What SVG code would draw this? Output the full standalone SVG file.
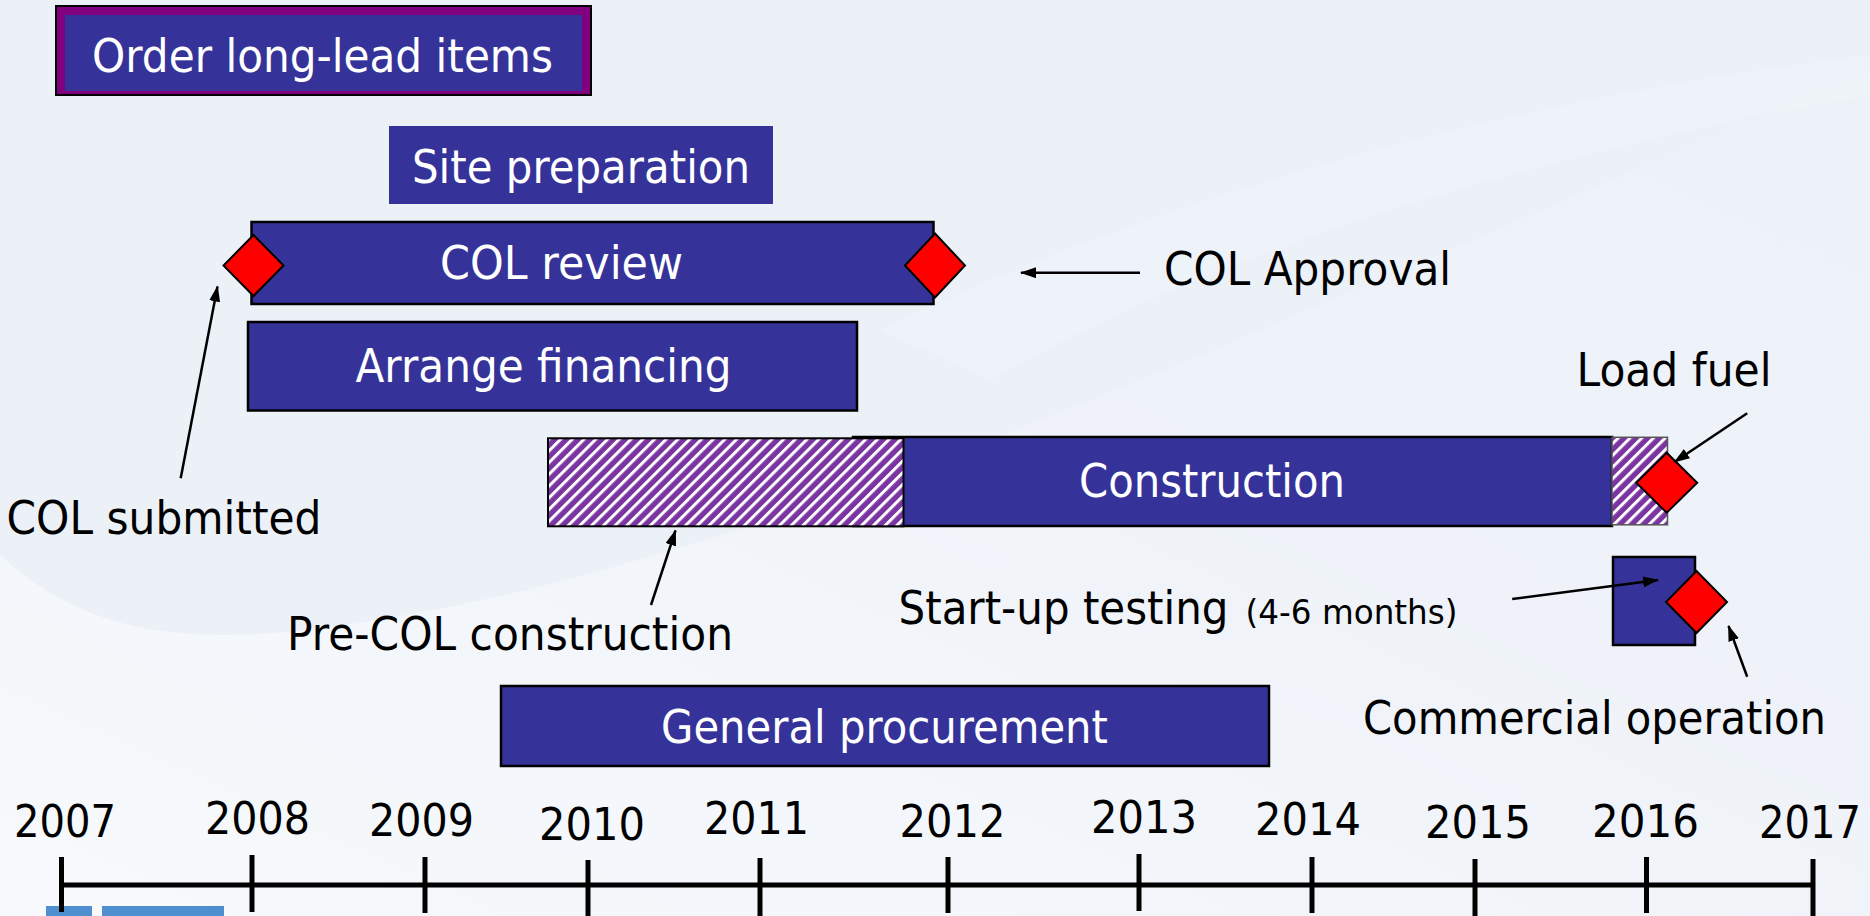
<svg xmlns="http://www.w3.org/2000/svg" width="1870" height="916" viewBox="0 0 1870 916">
<defs>
<style>
.bar{fill:#353399;stroke:#000;stroke-width:2.5}
.wt{font-family:"DejaVu Sans","Liberation Sans",sans-serif;font-size:46px;fill:#fff}
.bt{font-family:"DejaVu Sans","Liberation Sans",sans-serif;font-size:46px;fill:#000}
.yr{font-family:"DejaVu Sans","Liberation Sans",sans-serif;font-size:45px;fill:#000}
.dia{fill:#ff0000;stroke:#000;stroke-width:2}
.con{stroke:#000;stroke-width:2.5;fill:none;marker-end:url(#ah)}
.tick{stroke:#000;stroke-width:5}
</style>
<marker id="ah" viewBox="0 0 16 11" refX="15" refY="5.5" markerWidth="16" markerHeight="11" markerUnits="userSpaceOnUse" orient="auto">
<path d="M0,0 L16,5.5 L0,11 z" fill="#000"/>
</marker>
<pattern id="hatch" patternUnits="userSpaceOnUse" width="8.3" height="8.3" patternTransform="rotate(45)">
<rect x="0" y="0" width="8.3" height="8.3" fill="#7b35a3"/>
<rect x="0" y="0" width="3" height="8.3" fill="#ffffff"/>
</pattern>
<linearGradient id="lg" x1="0" y1="1" x2="1" y2="0">
<stop offset="0" stop-color="#ffffff" stop-opacity="0.6"/>
<stop offset="0.6" stop-color="#ffffff" stop-opacity="0.15"/>
<stop offset="1" stop-color="#ffffff" stop-opacity="0.05"/>
</linearGradient>
</defs>

<g id="background">
<rect x="0" y="0" width="1870" height="916" fill="#ecf1f8"/>
<path d="M0,555 C70,620 150,640 260,634 C700,600 1250,330 1870,70 L1870,916 L0,916 Z" fill="url(#lg)"/>
<path d="M880,330 C1150,200 1500,100 1870,55 L1870,95 C1500,160 1200,260 990,380 Z" fill="#ffffff" fill-opacity="0.15"/>
<rect x="46" y="906" width="46" height="10" fill="#4f8fcf"/>
<rect x="102" y="906" width="122" height="10" fill="#4f8fcf"/>
</g>

<g id="order-long-lead">
<rect x="56" y="6" width="535" height="89" fill="#800080" stroke="#000" stroke-width="2"/>
<rect x="65" y="15" width="517" height="76" fill="#353399"/>
<text class="wt" x="92" y="72" textLength="461" lengthAdjust="spacingAndGlyphs">Order long-lead items</text>
</g>

<g id="site-preparation">
<rect x="389" y="126" width="384" height="78" fill="#353399"/>
<text class="wt" x="412" y="183" textLength="338" lengthAdjust="spacingAndGlyphs">Site preparation</text>
</g>

<g id="col-review">
<rect class="bar" x="251.5" y="222" width="682" height="82"/>
<text class="wt" x="440" y="278.5" textLength="243" lengthAdjust="spacingAndGlyphs">COL review</text>
</g>

<g id="col-submitted-milestone">
<polygon class="dia" points="253.5,235 283.5,265.5 253.5,296 223.5,265.5"/>
</g>

<g id="col-approval-milestone">
<polygon class="dia" points="935,233.5 965,265.5 935,297.5 905,265.5"/>
</g>

<g id="arrange-financing">
<rect class="bar" x="248" y="322" width="609" height="88.5"/>
<text class="wt" x="355.5" y="382" textLength="376" lengthAdjust="spacingAndGlyphs">Arrange financing</text>
</g>

<g id="construction">
<rect class="bar" x="853" y="437" width="759" height="89"/>
<rect x="548" y="438.3" width="355.5" height="88" fill="url(#hatch)" stroke="#000" stroke-width="2"/>
<rect x="1612" y="437.3" width="55.5" height="87.5" fill="url(#hatch)" stroke="#555" stroke-width="1.5"/>
<text class="wt" x="1079" y="497" textLength="266" lengthAdjust="spacingAndGlyphs">Construction</text>
</g>

<g id="load-fuel-milestone">
<polygon class="dia" points="1666.7,452.7 1697.2,482.7 1666.7,512.7 1636.2,482.7"/>
</g>

<g id="startup-testing">
<rect class="bar" x="1613" y="557" width="82" height="88"/>
</g>

<g id="commercial-milestone">
<polygon class="dia" points="1696.5,571 1727,602 1696.5,633 1666,602"/>
</g>

<g id="general-procurement">
<rect class="bar" x="501" y="686" width="768" height="80"/>
<text class="wt" x="661" y="743" textLength="447" lengthAdjust="spacingAndGlyphs">General procurement</text>
</g>

<g id="labels">
<text class="bt" x="1164" y="285" textLength="287" lengthAdjust="spacingAndGlyphs">COL Approval</text>
<text class="bt" x="6.5" y="533.5" textLength="315" lengthAdjust="spacingAndGlyphs">COL submitted</text>
<text class="bt" x="1576.5" y="386" textLength="195" lengthAdjust="spacingAndGlyphs">Load fuel</text>
<text class="bt" x="287" y="650" textLength="446" lengthAdjust="spacingAndGlyphs">Pre-COL construction</text>
<text class="bt" x="898.5" y="623.5" textLength="330" lengthAdjust="spacingAndGlyphs">Start-up testing</text>
<text class="bt" x="1245.5" y="623.5" style="font-size:33px" textLength="212" lengthAdjust="spacingAndGlyphs">(4-6 months)</text>
<text class="bt" x="1363" y="733.5" textLength="463" lengthAdjust="spacingAndGlyphs">Commercial operation</text>
</g>

<g id="connectors">
<line class="con" x1="1140" y1="272.7" x2="1021" y2="272.7"/>
<line class="con" x1="180.7" y1="478.3" x2="217.5" y2="286.5"/>
<line class="con" x1="651" y1="605" x2="675.5" y2="530.5"/>
<line class="con" x1="1747.2" y1="413.3" x2="1674.5" y2="462"/>
<line class="con" x1="1512.2" y1="599" x2="1658" y2="580"/>
<line class="con" x1="1747.2" y1="676.7" x2="1728.5" y2="626"/>
</g>

<g id="timeline">
<line x1="61" y1="885" x2="1813" y2="885" stroke="#000" stroke-width="5"/>
<line class="tick" x1="61.5" y1="857" x2="61.5" y2="912"/>
<line class="tick" x1="252" y1="855" x2="252" y2="912"/>
<line class="tick" x1="425" y1="857" x2="425" y2="913"/>
<line class="tick" x1="588" y1="860" x2="588" y2="916"/>
<line class="tick" x1="760" y1="858" x2="760" y2="916"/>
<line class="tick" x1="948" y1="857" x2="948" y2="913"/>
<line class="tick" x1="1139" y1="854" x2="1139" y2="911"/>
<line class="tick" x1="1312" y1="857" x2="1312" y2="913"/>
<line class="tick" x1="1475" y1="859" x2="1475" y2="916"/>
<line class="tick" x1="1646.5" y1="857" x2="1646.5" y2="913"/>
<line class="tick" x1="1813" y1="859" x2="1813" y2="916"/>
<text class="yr" x="14" y="837" textLength="102" lengthAdjust="spacingAndGlyphs">2007</text>
<text class="yr" x="205" y="833.5" textLength="105" lengthAdjust="spacingAndGlyphs">2008</text>
<text class="yr" x="369" y="836" textLength="105" lengthAdjust="spacingAndGlyphs">2009</text>
<text class="yr" x="539" y="839.5" textLength="106" lengthAdjust="spacingAndGlyphs">2010</text>
<text class="yr" x="704" y="833.5" textLength="105" lengthAdjust="spacingAndGlyphs">2011</text>
<text class="yr" x="899.5" y="837" textLength="106" lengthAdjust="spacingAndGlyphs">2012</text>
<text class="yr" x="1091" y="833" textLength="106" lengthAdjust="spacingAndGlyphs">2013</text>
<text class="yr" x="1255" y="835" textLength="106" lengthAdjust="spacingAndGlyphs">2014</text>
<text class="yr" x="1425" y="837.5" textLength="106" lengthAdjust="spacingAndGlyphs">2015</text>
<text class="yr" x="1592" y="837" textLength="107" lengthAdjust="spacingAndGlyphs">2016</text>
<text class="yr" x="1759" y="837.5" textLength="102" lengthAdjust="spacingAndGlyphs">2017</text>
</g>
</svg>
